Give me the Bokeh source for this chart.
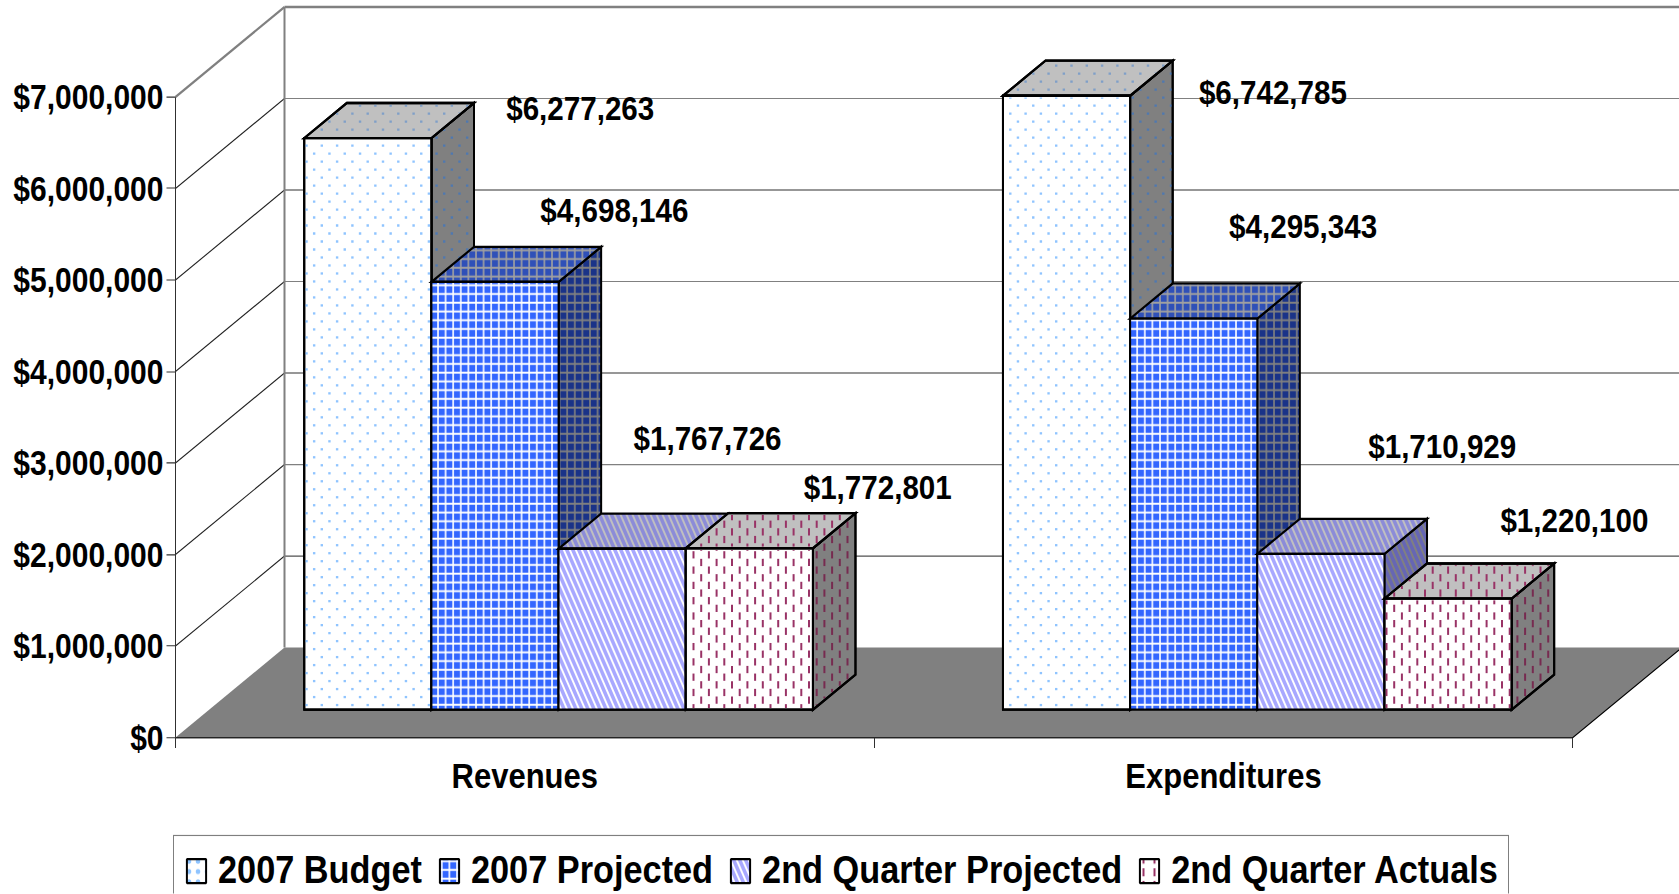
import math
from bokeh.plotting import figure
from bokeh.models import Range1d, LinearAxis, FixedTicker, NumeralTickFormatter, Legend, LegendItem
from bokeh.embed import file_html
from bokeh.resources import INLINE
from bokeh.core.properties import value

categories = ["Revenues", "Expenditures"]
series = ["2007 Budget", "2007 Projected", "2nd Quarter Projected", "2nd Quarter Actuals"]
budget_2007 = [6277263, 6742785]
projected_2007 = [4698146, 4295343]
q2_projected = [1767726, 1710929]
q2_actuals = [1772801, 1220100]
y_ticks = [0, 1000000, 2000000, 3000000, 4000000, 5000000, 6000000, 7000000]

# label offsets (pixels) from each bar's top-left front corner
label_dx = [[276, 183, 149, 192], [270, 173, 185, 190]]
label_dy = [[30, 72, 111, 61], [4, 93, 108, 79]]

S = 1.15              # the original picture is stretched vertically
PX_X = 698.7          # px per category
PX_Y = 91.51 / S / 1e6    # px per dollar (before the stretch)
DEPTH_X = 109 / PX_X
DEPTH_Y = 90 / S / PX_Y
GAP = 0.136
BAR_W = 0.182
Z0, Z1 = 0.3095, 0.70
BAR_SCALE = 0.995
FONT = "Liberation Sans"

ZERO_X = 175
W, H = 1679, 777
ZERO_Y = 737 / S

p = figure(width=W, height=H, output_backend="svg", toolbar_location=None,
           x_range=Range1d(-ZERO_X / PX_X, (W - ZERO_X) / PX_X),
           y_range=Range1d(-(H - ZERO_Y) / PX_Y, ZERO_Y / PX_Y),
           x_axis_type=None, y_axis_type=None,
           min_border_left=0, min_border_top=0, min_border_right=0, min_border_bottom=0,
           frame_width=W, frame_height=H, outline_line_color=None)
p.styles = {"transform": f"scale(1,{S})", "transform-origin": "0 0"}
p.xgrid.visible = False
p.ygrid.visible = False

def pt(x, v, z):
    return x + z * DEPTH_X, v + z * DEPTH_Y

# floor
fx, fy = zip(pt(0, 0, 0), pt(0, 0, 1), pt(2, 0, 1), pt(2, 0, 0))
p.patch(list(fx), list(fy), fill_color="#808080", line_color=None)
ex, ey = zip(pt(0, 0, 0), pt(2, 0, 0), pt(2, 0, 1))
p.line(list(ex), list(ey), line_color="black", line_width=1)

# gridlines and walls
grid_colors = ["#808080", "#505050", "#808080", "#303030", "#808080", "#303030", "#808080", "#808080"]
for v, c in zip(y_ticks[1:], grid_colors[1:]):
    top = v == y_ticks[-1]
    a, b, d = pt(0, v, 0), pt(0, v, 1), pt(2, v, 1)
    p.line([a[0], b[0]], [a[1], b[1]], line_color="#808080" if top else "#202020", line_width=2 if top else 1)
    p.line([b[0], d[0]], [b[1], d[1]], line_color=c, line_width=2 if top else 1)
a, b = pt(0, 0, 1), pt(0, y_ticks[-1], 1)
p.line([a[0], b[0]], [a[1], b[1]], line_color="#808080", line_width=2)

# (fill, hatch colour, pattern, scale, weight); "dots" and "dashes" are staggered marks, see stipple()
styles = [
    dict(front=("#FFFFFF", "#8FC4FF", "dots"), top=("#C0C0C0", "#7F9FC8", "dots"), side=("#808080", "#4F78B0", "dots")),
    dict(front=("#3366FF", "#FFFFFF", "cross", 7.6, 1.6), top=("#2F50B8", "#A0A0A0", "cross", 7.6, 1.6), side=("#1A3388", "#808080", "cross", 7.6, 1.6)),
    dict(front=("#FFFFFF", "#A8A8FF", "left_diagonal_line", 12, 3.5), top=("#C0C0C0", "#8C8CD8", "left_diagonal_line", 12, 3.5), side=("#808080", "#6666B4", "left_diagonal_line", 12, 3.5)),
    dict(front=("#FFFFFF", "#993366", "dashes"), top=("#C0C0C0", "#993366", "dashes"), side=("#808080", "#772B50", "dashes")),
]
stipple_shape = {"dots": (7.65, 13.9, 2.0, 2.4), "dashes": (7.7, 13.3, 6.3, 2.0)}   # column step, period, mark length, mark width
legend_hatch = {"dots": ("dot", 9, 1), "dashes": ("vertical_dash", 11, 2)}
series_values = [budget_2007, projected_2007, q2_projected, q2_actuals]

def to_px(c):
    return ZERO_X + c[0] * PX_X, ZERO_Y - c[1] * PX_Y

def stipple(corners, color, kind):
    """Staggered marks inside a convex face, laid on a page-wide grid."""
    step, period, length, width = stipple_shape[kind]
    poly = [to_px(c) for c in corners]
    xs = [c[0] for c in poly]
    x0s, y0s, x1s, y1s = [], [], [], []
    k = math.ceil((min(xs) + 1.5) / step)
    while k * step < max(xs) - 1.5:
        X = k * step
        hits = []
        for (ax, ay), (bx, by) in zip(poly, poly[1:] + poly[:1]):
            if (ax - X) * (bx - X) <= 0 and ax != bx:
                hits.append(ay + (by - ay) * (X - ax) / (bx - ax))
        top, bot = min(hits) + 1.5, max(hits) - 1.5
        off = (period / 2) * (k % 2)
        n = math.floor((top - off - length) / period)
        while off + n * period < bot:
            a = max(off + n * period, top)
            b = min(off + n * period + length, bot)
            if b > a + 0.4:
                x0s.append((X - ZERO_X) / PX_X); x1s.append((X - ZERO_X) / PX_X)
                y0s.append((ZERO_Y - a) / PX_Y); y1s.append((ZERO_Y - b) / PX_Y)
            n += 1
        k += 1
    p.segment(x0s, y0s, x1s, y1s, line_color=color, line_width=width, line_cap="butt")

def face(corners, st):
    xs, ys = [c[0] for c in corners], [c[1] for c in corners]
    if st[2] in stipple_shape:
        r = p.patch(xs, ys, fill_color=st[0], line_color="black", line_width=2, line_join="miter")
        stipple(corners, st[1], st[2])
        p.patch(xs, ys, fill_color=None, line_color="black", line_width=2, line_join="miter")
        return r
    return p.patch(xs, ys, fill_color=st[0], hatch_color=st[1], hatch_pattern=st[2], hatch_scale=st[3],
                   hatch_weight=st[4], line_color="black", line_width=2, line_join="miter")

legend_items = []
for g in range(len(categories)):
    for s, vals in enumerate(series_values):
        v = vals[g] * BAR_SCALE
        x0 = g + GAP + BAR_W * s
        x1 = x0 + BAR_W
        st = styles[s]
        face([pt(x1, 0, Z0), pt(x1, 0, Z1), pt(x1, v, Z1), pt(x1, v, Z0)], st["side"])
        face([pt(x0, v, Z0), pt(x0, v, Z1), pt(x1, v, Z1), pt(x1, v, Z0)], st["top"])
        front = [pt(x0, 0, Z0), pt(x1, 0, Z0), pt(x1, v, Z0), pt(x0, v, Z0)]
        if g == 0:
            # a patch that lies under the bar and gives the legend its swatch
            fs = st["front"]
            if fs[2] in legend_hatch:
                pat, sc, wt = legend_hatch[fs[2]]
            else:
                pat, sc, wt = fs[2], fs[3], fs[4]
            r = p.patch([c[0] for c in front], [c[1] for c in front], fill_color=fs[0], hatch_color=fs[1],
                        hatch_pattern=pat, hatch_scale=sc, hatch_weight=wt, line_color="black", line_width=2)
            legend_items.append(LegendItem(label=series[s], renderers=[r]))
        face(front, st["front"])
        lx, ly = pt(x0, v, Z0)
        p.text([lx], [ly], text=["${:,}".format(vals[g])], x_offset=label_dx[g][s], y_offset=-label_dy[g][s] / S,
               text_font=value(FONT), text_font_style="bold", text_font_size="29.6px",
               text_align="center", text_baseline="middle", text_color="black")

yax = LinearAxis(ticker=FixedTicker(ticks=y_ticks), formatter=NumeralTickFormatter(format="$0,0"),
                 fixed_location=0, major_tick_out=9, major_tick_in=0, minor_tick_out=0, minor_tick_in=0,
                 major_label_standoff=3, major_label_text_font=FONT, major_label_text_font_style="bold",
                 major_label_text_font_size="30px", major_label_text_color="black",
                 axis_line_color="#303030", major_tick_line_color="#303030", bounds=(0, y_ticks[-1]))
p.add_layout(yax, "left")

mids = [i + 0.5 for i in range(len(categories))]
xax = LinearAxis(ticker=FixedTicker(ticks=mids, minor_ticks=list(range(len(categories) + 1))),
                 fixed_location=0, major_label_overrides={m: c for m, c in zip(mids, categories)},
                 major_tick_out=0, major_tick_in=0, minor_tick_out=9, minor_tick_in=0,
                 minor_tick_line_color="#303030", axis_line_color="#303030",
                 major_label_standoff=7, major_label_text_font=FONT, major_label_text_font_style="bold",
                 major_label_text_font_size="31px", major_label_text_color="black", bounds=(0, 2))
p.add_layout(xax, "below")

legend = Legend(items=legend_items, orientation="horizontal", location=(173, -10),
                label_text_font=FONT, label_text_font_style="bold", label_text_font_size="34.3px",
                label_text_color="black", glyph_width=24, glyph_height=26, label_standoff=10, spacing=15,
                padding=10, margin=0, border_line_color="black", border_line_width=1, background_fill_color="white")
p.add_layout(legend, "center")

open("out.html", "w").write(file_html(p, INLINE))
